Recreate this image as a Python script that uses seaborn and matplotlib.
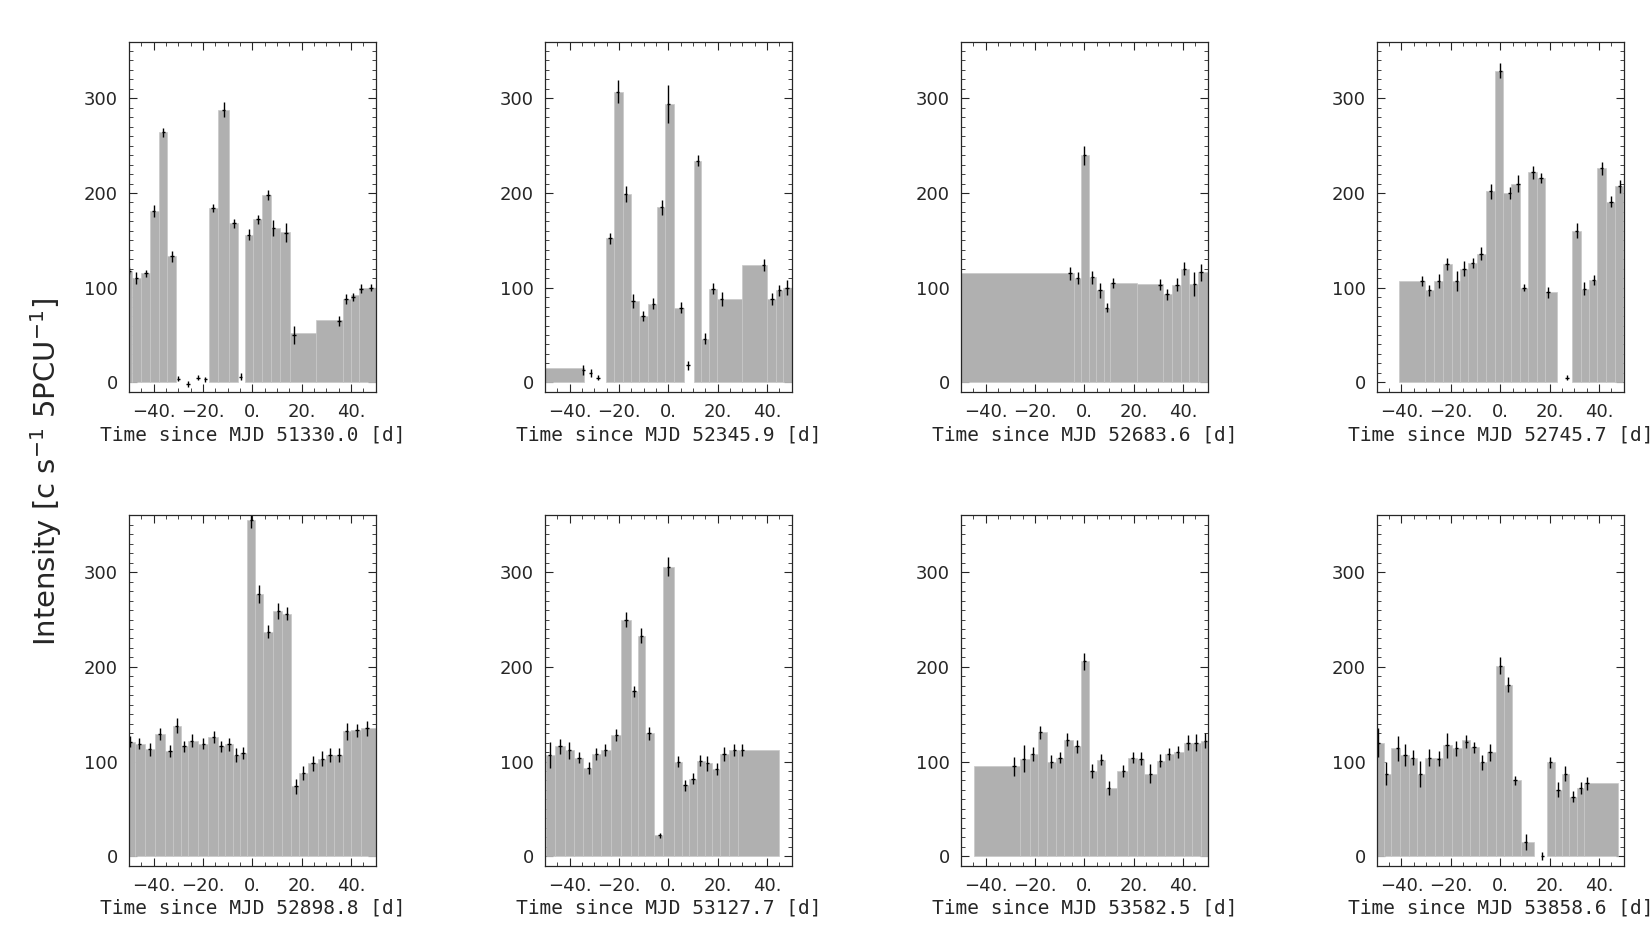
import numpy as np
import matplotlib
matplotlib.use("Agg")
import matplotlib.pyplot as plt
import seaborn as sns
from matplotlib.ticker import MultipleLocator, FixedLocator

sns.set_style("ticks")
plt.rcParams["font.family"] = ["DejaVu Sans"]

nan = np.nan

# ---- panel labels ----
mjd = ["51330.0", "52345.9", "52683.6", "52745.7",
       "52898.8", "53127.7", "53582.5", "53858.6"]

# ---- bar steps (edges + heights, nan = no bar) ----
edges = [
    [-50.4, -48.6, -44.9, -41.5, -37.9, -34.4, -30.8, -17.4, -13.9, -9.6, -6.0, -3.0, 0.4, 4.1, 7.5,
     11.1, 15.1, 25.8, 36.7, 40.1, 43.1, 50],
    [-50.5, -34.3, -25.4, -22.0, -18.3, -15.1, -12.0, -8.2, -4.5, -1.4, 2.5, 6.5, 10.2, 13.4, 16.6,
     19.9, 30.0, 40.0, 43.5, 46.5, 50],
    [-50, -4.1, -1.2, 1.8, 4.9, 7.9, 10.6, 21.5, 32, 35.4, 39.2, 42.2, 46, 50],
    [-41.2, -30.5, -26.7, -23.1, -19.6, -16.5, -12.9, -9.5, -5.9, -2.0, 1.1, 4.5, 7.9, 11.4, 14.7,
     18.1, 23.1, 29.1, 32.8, 35.9, 39.3, 43, 46.5, 49.8],
    [-50, -47.6, -43.6, -39.5, -35.5, -32, -29, -26, -22, -17.8, -14, -11, -8, -5, -2.1, 1, 4.5, 8.5,
     12.2, 15.6, 19, 22.6, 26.4, 30, 33, 36.6, 40, 44, 50],
    [-49.4, -46, -42, -38.2, -34.4, -30.7, -27.3, -23.2, -19.1, -15.3, -12.3, -9.3, -5.9, -2, 2.3,
     5.5, 8.5, 11.6, 14.7, 17.7, 21.1, 24.6, 28.4, 45],
    [-44.5, -26.1, -22, -18.9, -15.2, -11.4, -8.2, -4.6, -1.4, 1.8, 5.2, 8.3, 13.1, 17.8, 21.5, 24.2,
     29.4, 32.7, 36.2, 40.3, 43.5, 47.3, 50],
    [-50, -47.1, -44.1, -40.5, -37.1, -33.7, -30.5, -26.4, -23, -19.6, -15.5, -12.1, -8.7, -5.2, -1.9,
     1.5, 4.6, 8.2, 13.5, 18.9, 22.3, 25, 27.8, 31.2, 33.9, 47.8],
]
heights = [
    [118, 110, 115, 181, 264, 133, nan, 184, 288, 168, nan, 156, 172, 198, 163, 159, 52, 66, 88, 92, 100],
    [15.5, nan, 152, 307, 199, 86, 70, 83, 185, 294, 79, nan, 234, 46, 99, 88, 124, 88, 97, 100],
    [115, 110, 240, 111, 97, 79, 105, 104, 93, 103, 120, 104, 116],
    [107, 97, 107, 125, 107, 120, 126, 136, 202, 329, 200, 210, 100, 222, 216, 95, nan, 160, 99, 108,
     226, 191, 207],
    [121, 119, 113, 129, 111, 138, 116, 122, 119, 126, 116, 118, 107, 109, 355, 277, 237, 259, 256, 74,
     88, 98, 103, 107, 107, 132, 133, 135],
    [107, 116, 112, 104, 93, 108, 112, 128, 250, 174, 233, 130, 22, 306, 100, 75, 82, 101, 98, 92, 108,
     112, 112],
    [95, 103, 108, 131, 100, 104, 123, 116, 206, 90, 102, 72, 90, 104, 103, 87, 101, 108, 110, 120, 120,
     122],
    [120, 87, 114, 107, 104, 87, 104, 104, 117, 114, 123, 115, 99, 110, 201, 181, 80, 15, nan, 99, 70, 87,
     63, 72, 77],
]

# ---- measured points ----
t_pts = [
    [-50, -47, -43, -40, -36, -32.6, -30, -26, -22, -19, -16, -11.6, -7.5, -4.7, -1.5, 2.3, 6.3, 8.5,
     13.7, 16.8, 35, 38, 40.8, 44, 48],
    [-34.4, -31.4, -28.5, -23.7, -20.5, -17.3, -14.3, -10.2, -6.1, -2.7, 0, 5.2, 7.9, 11.9, 14.7, 18,
     21.6, 38.6, 42, 45, 48],
    [-5.7, -2.7, 0, 3.3, 6.3, 9.1, 11.6, 30.6, 33.5, 37.5, 40.5, 44.6, 47.3],
    [-31.6, -28.7, -25, -21.5, -17.7, -14.7, -11.2, -7.8, -3.9, 0, 3.8, 7.2, 9.7, 13.3, 16.5, 19.3, 27.1,
     30.9, 34.1, 37.8, 41.1, 44.9, 48.3],
    [-49.5, -45.7, -41.6, -37.5, -33.4, -30.6, -27.6, -24.6, -19.8, -15.7, -12.6, -9.5, -6.5, -3.8, -0.4,
     2.5, 6.5, 10.5, 13.9, 17.7, 20.7, 24.5, 28.3, 31.4, 35.1, 38.2, 42.3, 46.4],
    [-48, -43.9, -40.1, -36.2, -32.3, -29.1, -25.5, -21, -17.1, -13.9, -10.9, -7.8, -3.5, 0, 4.1, 6.8,
     10, 13, 15.8, 19.6, 22.6, 26.7, 30],
    [-28.4, -24.6, -20.9, -17.8, -13.3, -9.8, -6.8, -3, 0, 3.1, 6.9, 9.9, 15.8, 19.6, 22.9, 26.7, 30.8,
     34.1, 37.8, 41.9, 45.3, 49],
    [-49.5, -46.1, -41.6, -38.6, -35.5, -32.4, -28.7, -24.9, -21.6, -17.8, -13.7, -10.7, -7.2, -4.1, 0,
     3.3, 6, 10.3, 17, 20.3, 23.4, 26.4, 29.5, 32.5, 35.2],
]
rate = [
    [118, 110, 115, 181, 264, 133, 4, -2, 5, 3, 184, 288, 168, 6, 156, 172, 198, 163, 158, 50, 65, 88,
     90, 99, 100],
    [13, 10, 5, 152, 307, 199, 86, 70, 83, 185, 294, 79, 18, 234, 46, 99, 88, 124, 88, 97, 100],
    [115, 110, 240, 111, 97, 79, 105, 103, 93, 103, 120, 104, 116],
    [107, 97, 107, 125, 107, 120, 126, 136, 202, 329, 200, 210, 100, 222, 216, 95, 5, 160, 99, 108, 226,
     191, 207],
    [121, 119, 113, 129, 111, 138, 116, 122, 119, 126, 116, 118, 107, 109, 355, 277, 237, 259, 256, 74,
     88, 98, 103, 107, 107, 132, 133, 135],
    [107, 116, 112, 104, 93, 108, 112, 128, 250, 174, 233, 130, 22, 306, 100, 75, 82, 101, 98, 92, 108,
     112, 112],
    [95, 103, 108, 131, 100, 104, 123, 116, 206, 90, 102, 72, 90, 104, 103, 87, 101, 108, 110, 120, 120,
     122],
    [120, 87, 114, 107, 104, 87, 104, 103, 117, 114, 121, 115, 99, 110, 201, 181, 80, 15, 0, 99, 70, 87,
     63, 72, 77],
]
rate_err = [
    [4, 6, 4, 6, 5, 6, 3, 3, 3, 3, 4, 8, 5, 4, 6, 5, 5, 8, 10, 10, 5, 5, 4, 5, 4],
    [5, 4, 3, 6, 12, 8, 7, 5, 6, 8, 20, 6, 5, 6, 6, 6, 7, 6, 6, 6, 8],
    [7, 6, 10, 7, 8, 5, 5, 6, 6, 7, 7, 13, 9],
    [5, 6, 7, 6, 11, 8, 5, 7, 8, 8, 6, 9, 4, 7, 5, 6, 3, 8, 7, 5, 7, 6, 7],
    [6, 6, 7, 6, 6, 8, 6, 7, 6, 6, 6, 7, 7, 6, 8, 9, 7, 8, 7, 8, 7, 8, 8, 7, 7, 9, 7, 8],
    [14, 8, 9, 6, 6, 6, 6, 6, 8, 6, 8, 7, 3, 10, 6, 6, 6, 6, 8, 6, 7, 6, 6],
    [10, 14, 7, 7, 7, 6, 7, 7, 9, 7, 6, 7, 6, 6, 7, 10, 7, 6, 6, 8, 9, 8],
    [15, 12, 13, 12, 8, 14, 9, 8, 13, 8, 7, 6, 8, 9, 9, 8, 5, 8, 4, 6, 8, 8, 6, 6, 7],
]

fig = plt.figure(figsize=(16.52, 9.44), dpi=100)
W, H = 0.1495, 0.371
lefts = [0.078 + i * 0.2518 for i in range(4)]
bottoms = [0.585, 0.083]

for k in range(8):
    r, c = divmod(k, 4)
    ax = fig.add_axes([lefts[c], bottoms[r], W, H])
    e = np.array(edges[k])
    h = np.array(heights[k], dtype=float)
    ok = ~np.isnan(h)
    ax.bar(e[:-1][ok], h[ok], width=np.diff(e)[ok], align="edge",
           color="#b0b0b0", edgecolor="#c8c8c8", linewidth=0.5)
    ax.errorbar(t_pts[k], rate[k], yerr=rate_err[k], xerr=0.7, fmt="none",
                ecolor="black", elinewidth=1.0, capsize=0)
    ax.set_xlim(-50, 50)
    ax.set_ylim(-10, 360)
    ax.xaxis.set_major_locator(FixedLocator([-40, -20, 0, 20, 40]))
    ax.set_xticklabels(["\u221240.", "\u221220.", "0.", "20.", "40."])
    ax.xaxis.set_minor_locator(MultipleLocator(5))
    ax.yaxis.set_major_locator(FixedLocator([0, 100, 200, 300]))
    ax.yaxis.set_minor_locator(MultipleLocator(10))
    ax.tick_params(which="both", direction="in", top=True, right=True, labelsize=13, pad=8)
    ax.tick_params(which="major", length=6)
    ax.tick_params(which="minor", length=3)
    for s in ax.spines.values():
        s.set_linewidth(0.9)
    ax.set_xlabel(f"Time since MJD {mjd[k]} [d]", fontsize=14,
                  family="DejaVu Sans Mono", labelpad=3)

fig.text(0.028, 0.5, "Intensity [c s$^{-1}$ 5PCU$^{-1}$]", rotation=90,
         ha="center", va="center", fontsize=21)

fig.savefig("out.png", dpi=100)
